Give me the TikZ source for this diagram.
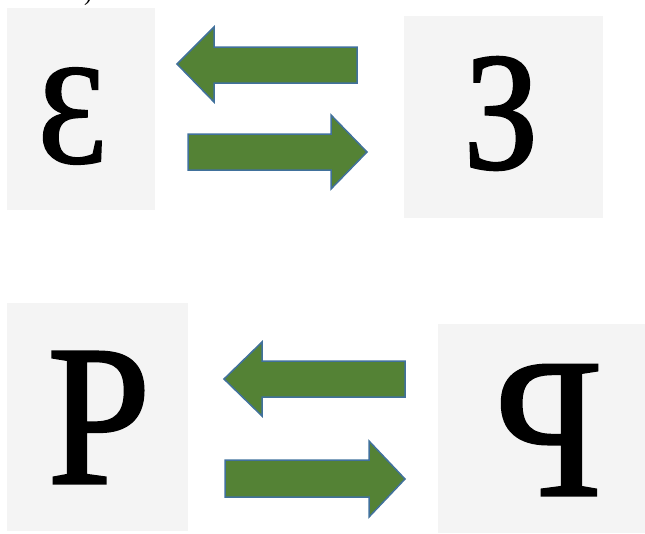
\documentclass[tikz,border=0pt]{standalone}
\usepackage{fontspec}
\setmainfont{Liberation Serif}
\newfontfamily\glyphfont[FakeBold=1.5]{Liberation Serif}
\usepackage{graphicx}
\definecolor{boxgray}{HTML}{F4F4F4}
\definecolor{arrowgreen}{HTML}{548235}
\definecolor{arrowblue}{HTML}{41719C}
\tikzset{
  panel/.style={fill=boxgray,draw=none,inner sep=0pt,outer sep=0pt},
  glyph/.style={inner sep=0pt,outer sep=0pt,anchor=center,text=black,font=\glyphfont},
  bigarrow/.style={fill=arrowgreen,draw=arrowblue,line width=1.5pt,line join=miter}
}
\begin{document}
\begin{tikzpicture}[x=1pt,y=-1pt]
\useasboundingbox (0,0) rectangle (645,533);
% panels
\node[panel,minimum width=148pt,minimum height=202pt] (p1) at (81,109) {};
\node[panel,minimum width=199pt,minimum height=202pt] (p2) at (503.5,117) {};
\node[panel,minimum width=181pt,minimum height=228pt] (p3) at (97.5,417) {};
\node[panel,minimum width=207pt,minimum height=209pt] (p4) at (541.5,428.5) {};
% glyphs
\node[glyph] (g1) at (72.5,116) {\resizebox*{70pt}{96pt}{Ɛ}};
\node[glyph] (g2) at (501,113.5) {\resizebox*{75pt}{113pt}{\reflectbox{Ɛ}}};
\node[glyph] (g3) at (99,417.5) {\resizebox*{103pt}{131pt}{P}};
\node[glyph] (g4) at (548.5,430) {\resizebox*{108pt}{130pt}{\reflectbox{P}}};
% cropped character at top
\node[inner sep=0pt,anchor=south west,font=\fontsize{24}{24}\selectfont] (paren) at (84,6) {)};
% arrows
\draw[bigarrow] (177,64) -- (214,27) -- (214,47) -- (357,47) -- (357,83) -- (214,83) -- (214,102) -- cycle;
\draw[bigarrow] (188,134) -- (331,134) -- (331,115) -- (367,152) -- (331,189) -- (331,170) -- (188,170) -- cycle;
\draw[bigarrow] (224,379) -- (262,342) -- (262,361) -- (405,361) -- (405,397) -- (262,397) -- (262,416) -- cycle;
\draw[bigarrow] (225,460) -- (369,460) -- (369,441) -- (405,479) -- (369,517) -- (369,497) -- (225,497) -- cycle;
\end{tikzpicture}
\end{document}
